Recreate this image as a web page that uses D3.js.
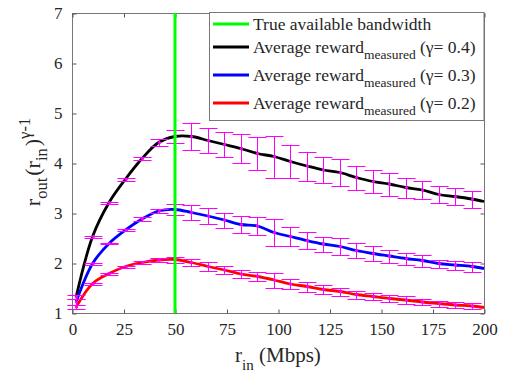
<!DOCTYPE html>
<html>
<head>
<meta charset="utf-8">
<script src="https://cdn.jsdelivr.net/npm/d3@7"></script>
</head>
<body style="margin:0;background:#fff">
<script>
const width = 515;
const height = 381;

// measurement points (Mbps); the line continues to 200
const errX = [2, 10, 18, 26, 34, 42, 50, 58, 66, 74, 82, 90, 98, 106, 114, 122, 130, 138, 146, 154, 162, 170, 178, 186, 194];
const lineX = [...errX, 200];

const black = [1.32, 2.53, 3.21, 3.68, 4.09, 4.41, 4.53, 4.53, 4.45, 4.37, 4.29, 4.19, 4.13, 4.03, 3.94, 3.86, 3.81, 3.71, 3.63, 3.58, 3.51, 3.46, 3.37, 3.33, 3.28, 3.23];
const blackErr = [0.05, 0.02, 0.02, 0.03, 0.03, 0.07, 0.14, 0.27, 0.25, 0.26, 0.28, 0.33, 0.42, 0.32, 0.29, 0.26, 0.27, 0.24, 0.23, 0.23, 0.2, 0.18, 0.17, 0.17, 0.17];

const blue = [1.22, 1.99, 2.39, 2.66, 2.88, 3.04, 3.07, 3.01, 2.94, 2.86, 2.77, 2.74, 2.61, 2.53, 2.45, 2.38, 2.33, 2.25, 2.19, 2.14, 2.09, 2.05, 1.99, 1.96, 1.93, 1.89];
const blueErr = [0.05, 0.02, 0.02, 0.02, 0.03, 0.05, 0.11, 0.14, 0.16, 0.15, 0.16, 0.17, 0.27, 0.19, 0.17, 0.15, 0.17, 0.14, 0.15, 0.13, 0.12, 0.12, 0.08, 0.09, 0.1];

const red = [1.12, 1.59, 1.79, 1.93, 2.01, 2.06, 2.07, 2.01, 1.93, 1.86, 1.78, 1.73, 1.66, 1.58, 1.53, 1.47, 1.43, 1.37, 1.33, 1.29, 1.26, 1.22, 1.19, 1.16, 1.14, 1.11];
const redErr = [0.05, 0.02, 0.02, 0.02, 0.03, 0.04, 0.06, 0.07, 0.09, 0.08, 0.08, 0.09, 0.15, 0.1, 0.1, 0.09, 0.08, 0.08, 0.07, 0.07, 0.07, 0.06, 0.06, 0.06, 0.06];

const bandwidth = 50;
const xTicks = [0, 25, 50, 75, 100, 125, 150, 175, 200];
const yTicks = [1, 2, 3, 4, 5, 6, 7];

const series = [
  { name: "Average reward", gamma: "0.4", color: "#000000", y: black, err: blackErr },
  { name: "Average reward", gamma: "0.3", color: "#0000ff", y: blue, err: blueErr },
  { name: "Average reward", gamma: "0.2", color: "#ff0000", y: red, err: redErr }
];

const serif = "Liberation Serif";
const ink = "#262626";

const x = d3.scaleLinear().domain([0, 200]).range([72, 484]);
const y = d3.scaleLinear().domain([1, 7]).range([313, 13]);

const svg = d3.select("body").append("svg")
  .attr("width", width)
  .attr("height", height)
  .attr("font-family", serif);

// axes box
svg.append("rect")
  .attr("x", x(0) + 0.5).attr("y", y(7) + 0.5)
  .attr("width", x(200) - x(0)).attr("height", y(1) - y(7))
  .attr("fill", "none").attr("stroke", "#777").attr("stroke-width", 1);

function styleAxis(g) {
  g.attr("font-family", serif).attr("font-size", 17);
  g.select(".domain").remove();
  g.selectAll(".tick line").attr("stroke", "#555");
  g.selectAll(".tick text").attr("fill", ink).attr("font-family", serif);
}

svg.append("g")
  .attr("transform", `translate(0.5,${y(1) + 0.5})`)
  .call(d3.axisBottom(x).tickValues(xTicks).tickFormat(d3.format("d")).tickSizeInner(-4).tickSizeOuter(0).tickPadding(9))
  .call(styleAxis);
svg.append("g")
  .attr("transform", `translate(0.5,${y(7) + 0.5})`)
  .call(d3.axisTop(x).tickValues(xTicks).tickSizeInner(-4).tickSizeOuter(0).tickFormat(""))
  .call(styleAxis);
svg.append("g")
  .attr("transform", `translate(${x(0) + 0.5},0.5)`)
  .call(d3.axisLeft(y).tickValues(yTicks).tickFormat(d3.format("d")).tickSizeInner(-4).tickSizeOuter(0).tickPadding(10))
  .call(styleAxis);
svg.append("g")
  .attr("transform", `translate(${x(200) + 0.5},0.5)`)
  .call(d3.axisRight(y).tickValues(yTicks).tickSizeInner(-4).tickSizeOuter(0).tickFormat(""))
  .call(styleAxis);

// curves
const line = d3.line()
  .x((d, i) => x(lineX[i]))
  .y(d => y(d))
  .curve(d3.curveCatmullRom);

series.forEach(s => {
  svg.append("path")
    .datum(s.y)
    .attr("fill", "none")
    .attr("stroke", s.color)
    .attr("stroke-width", 2.8)
    .attr("d", line);
});

// error bars
const cap = 9;
const snap = v => Math.round(v) + 0.5;
series.forEach(s => {
  const g = svg.append("g").attr("stroke", "#ff00ff").attr("stroke-width", 1);
  errX.forEach((xv, i) => {
    const px = snap(x(xv));
    const lo = snap(y(s.y[i] - s.err[i]));
    const hi = snap(y(s.y[i] + s.err[i]));
    g.append("line").attr("x1", px).attr("x2", px).attr("y1", lo).attr("y2", hi);
    g.append("line").attr("x1", px - cap).attr("x2", px + cap).attr("y1", lo).attr("y2", lo);
    g.append("line").attr("x1", px - cap).attr("x2", px + cap).attr("y1", hi).attr("y2", hi);
    g.append("circle").attr("cx", px).attr("cy", y(s.y[i])).attr("r", 1.6)
      .attr("fill", "#ff00ff").attr("stroke", "none");
  });
});

// true available bandwidth
svg.append("line")
  .attr("x1", x(bandwidth)).attr("x2", x(bandwidth))
  .attr("y1", y(7)).attr("y2", y(1))
  .attr("stroke", "#00ff00").attr("stroke-width", 3);

// legend
const lg = svg.append("g");
lg.append("rect")
  .attr("x", 209.5).attr("y", 12.5).attr("width", 274.5).attr("height", 108)
  .attr("fill", "#fff").attr("stroke", "#777").attr("stroke-width", 1);

const rows = [30, 53, 81, 109];
lg.append("line").attr("x1", 213).attr("x2", 249).attr("y1", rows[0] - 6).attr("y2", rows[0] - 6)
  .attr("stroke", "#00ff00").attr("stroke-width", 3);
lg.append("text").attr("x", 253).attr("y", rows[0]).attr("font-size", 17.5)
  .attr("font-family", serif).attr("fill", ink)
  .text("True available bandwidth");

series.forEach((s, i) => {
  const by = rows[i + 1];
  lg.append("line").attr("x1", 213).attr("x2", 249).attr("y1", by - 6).attr("y2", by - 6)
    .attr("stroke", s.color).attr("stroke-width", 3);
  const t = lg.append("text").attr("x", 253).attr("y", by).attr("font-size", 17.5)
    .attr("font-family", serif).attr("fill", ink);
  t.append("tspan").text(s.name);
  t.append("tspan").attr("font-size", 13.5).attr("dy", 6).text("measured");
  t.append("tspan").attr("dy", -6).text(` (\u03b3= ${s.gamma})`);
});

// x label
const xl = svg.append("text")
  .attr("x", 278).attr("y", 362)
  .attr("text-anchor", "middle")
  .attr("font-family", serif).attr("fill", ink)
  .attr("font-size", 21);
xl.append("tspan").text("r");
xl.append("tspan").attr("font-size", 15).attr("dy", 8).text("in");
xl.append("tspan").attr("dy", -8).text(" (Mbps)");

// y label
const yl = svg.append("text")
  .attr("transform", "translate(40,162) rotate(-90)")
  .attr("text-anchor", "middle")
  .attr("font-family", serif).attr("fill", ink)
  .attr("font-size", 22);
yl.append("tspan").text("r");
yl.append("tspan").attr("font-size", 16.5).attr("dy", 7).text("out");
yl.append("tspan").attr("dx", 2).attr("dy", -7).text("(r");
yl.append("tspan").attr("font-size", 16.5).attr("dy", 7).text("in");
yl.append("tspan").attr("dx", 2).attr("dy", -7).text(")");
yl.append("tspan").attr("font-size", 16.5).attr("dy", -10).text("\u03b3-1");
</script>
</body>
</html>
